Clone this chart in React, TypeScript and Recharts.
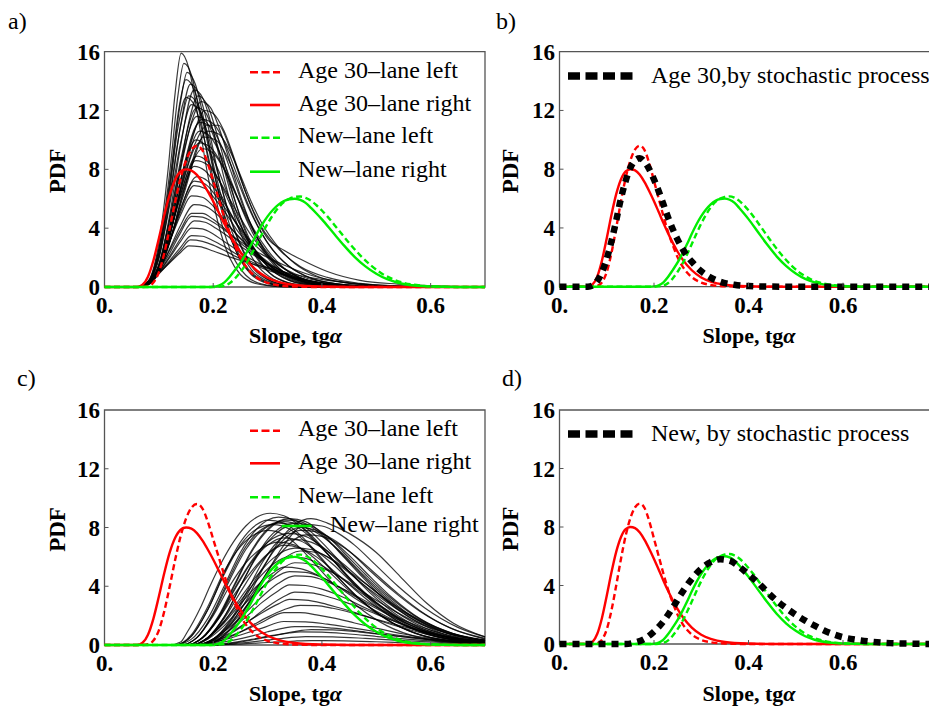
import React from 'react';
import { LineChart, Line, XAxis, YAxis, ReferenceArea, Legend } from 'recharts';

type Pt = [number, number];

// ---------- axis ticks ----------
const X_TICKS = [0, 0.2, 0.4, 0.6];
const Y_TICKS = [0, 4, 8, 12, 16];

// ---------- labels ----------
const PANEL_LETTERS = ['a)', 'b)', 'c)', 'd)'];
const Y_TITLE = 'PDF';
const X_TITLE = 'Slope, tg';
const X_TITLE_GREEK = 'α';
const LANE_LABELS = ['Age 30–lane left', 'Age 30–lane right', 'New–lane left', 'New–lane right'];
const STOCH_LABELS = ['Age 30,by stochastic process', 'New, by stochastic process'];

// ---------- colored reference PDFs ----------
const age30Left: Pt[] = [[0.07,0],[0.08,0.05],[0.09,0.3],[0.10,1.0],[0.11,2.3],[0.12,4.0],[0.13,5.8],[0.14,7.4],[0.15,8.6],[0.16,9.35],[0.17,9.6],[0.18,9.3],[0.19,8.4],[0.20,7.2],[0.21,6.0],[0.22,4.8],[0.23,3.7],[0.24,2.8],[0.25,2.0],[0.26,1.4],[0.28,0.65],[0.30,0.28],[0.32,0.12],[0.35,0.03],[0.40,0]];
const age30Right: Pt[] = [[0.06,0],[0.07,0.15],[0.08,0.7],[0.09,1.8],[0.10,3.3],[0.11,4.9],[0.12,6.3],[0.13,7.3],[0.14,7.85],[0.15,8.0],[0.16,7.92],[0.17,7.62],[0.18,7.12],[0.19,6.5],[0.20,5.82],[0.21,5.08],[0.22,4.33],[0.23,3.62],[0.24,2.97],[0.25,2.38],[0.26,1.88],[0.28,1.12],[0.30,0.63],[0.32,0.35],[0.35,0.14],[0.40,0.03],[0.45,0]];
const newLeft: Pt[] = [[0.20,0],[0.21,0.02],[0.22,0.08],[0.23,0.25],[0.24,0.58],[0.25,1.02],[0.26,1.55],[0.27,2.2],[0.28,2.9],[0.29,3.62],[0.30,4.3],[0.31,4.9],[0.32,5.4],[0.33,5.78],[0.34,6.0],[0.35,6.12],[0.36,6.15],[0.37,6.06],[0.38,5.86],[0.39,5.56],[0.40,5.2],[0.41,4.8],[0.43,3.9],[0.45,3.0],[0.47,2.17],[0.49,1.47],[0.51,0.92],[0.53,0.54],[0.55,0.29],[0.58,0.1],[0.61,0.03],[0.66,0]];
const newRight: Pt[] = [[0.19,0],[0.20,0.02],[0.21,0.1],[0.22,0.3],[0.23,0.68],[0.24,1.15],[0.25,1.65],[0.26,2.25],[0.27,2.9],[0.28,3.6],[0.29,4.25],[0.30,4.8],[0.31,5.25],[0.32,5.6],[0.33,5.85],[0.34,5.97],[0.35,6.0],[0.36,5.92],[0.37,5.72],[0.38,5.38],[0.39,5.0],[0.40,4.6],[0.42,3.72],[0.44,2.85],[0.46,2.05],[0.48,1.4],[0.50,0.9],[0.52,0.53],[0.54,0.29],[0.57,0.1],[0.60,0.03],[0.65,0]];

// ---------- stochastic-process PDFs ----------
const age30Stochastic: Pt[] = [[0.06,0],[0.07,0.08],[0.08,0.4],[0.09,1.0],[0.10,1.9],[0.11,3.1],[0.12,4.5],[0.13,6.0],[0.14,7.2],[0.15,8.1],[0.16,8.6],[0.17,8.75],[0.18,8.5],[0.19,8.0],[0.20,7.3],[0.21,6.5],[0.22,5.6],[0.23,4.7],[0.24,3.9],[0.25,3.2],[0.26,2.6],[0.27,2.1],[0.28,1.7],[0.30,1.05],[0.32,0.62],[0.34,0.34],[0.37,0.13],[0.40,0.04],[0.45,0.01],[0.50,0]];
const newStochastic: Pt[] = [[0.14,0],[0.16,0.1],[0.18,0.35],[0.20,0.85],[0.22,1.55],[0.24,2.5],[0.26,3.55],[0.28,4.45],[0.30,5.15],[0.32,5.6],[0.34,5.8],[0.36,5.7],[0.38,5.3],[0.40,4.75],[0.42,4.2],[0.44,3.55],[0.46,2.95],[0.48,2.45],[0.50,2.0],[0.52,1.6],[0.54,1.25],[0.56,0.92],[0.58,0.66],[0.60,0.46],[0.63,0.28],[0.66,0.16],[0.70,0.06],[0.75,0.02],[0.80,0]];

// ---------- simulated PDFs, age 30 (panel a) ----------
const age30Runs: Pt[][] = [
  [[0.06,0],[0.08,0.4],[0.10,3.0],[0.117,8.0],[0.13,13.2],[0.141,15.9],[0.155,14.9],[0.17,12.0],[0.19,7.6],[0.21,4.2],[0.23,2.0],[0.25,0.85],[0.28,0.22],[0.32,0.03],[0.36,0]],
  [[0.06,0],[0.08,0.35],[0.10,2.6],[0.12,7.8],[0.135,13.0],[0.146,15.2],[0.16,14.4],[0.175,11.8],[0.195,7.8],[0.215,4.4],[0.235,2.2],[0.26,0.8],[0.29,0.2],[0.33,0.03],[0.37,0]],
  [[0.06,0],[0.08,0.3],[0.10,2.3],[0.12,6.9],[0.14,12.6],[0.152,14.6],[0.167,13.8],[0.185,11.0],[0.205,7.2],[0.225,4.2],[0.245,2.2],[0.27,0.85],[0.30,0.25],[0.34,0.04],[0.38,0]],
  [[0.06,0],[0.08,0.35],[0.10,2.6],[0.12,7.2],[0.138,12.4],[0.15,14.1],[0.165,13.4],[0.18,11.4],[0.20,8.0],[0.22,5.0],[0.24,2.8],[0.265,1.2],[0.295,0.4],[0.33,0.08],[0.38,0]],
  [[0.06,0],[0.08,0.25],[0.10,1.9],[0.12,5.9],[0.14,11.0],[0.158,13.8],[0.175,13.0],[0.19,11.0],[0.21,7.6],[0.23,4.8],[0.25,2.8],[0.275,1.2],[0.30,0.5],[0.34,0.1],[0.40,0]],
  [[0.06,0],[0.08,0.2],[0.10,1.5],[0.12,4.9],[0.14,9.6],[0.165,13.4],[0.18,12.9],[0.20,10.6],[0.22,7.4],[0.24,4.7],[0.26,2.8],[0.285,1.3],[0.31,0.55],[0.35,0.12],[0.42,0]],
  [[0.06,0],[0.08,0.15],[0.10,1.2],[0.12,4.0],[0.14,8.2],[0.155,11.2],[0.172,13.0],[0.19,12.3],[0.21,10.0],[0.23,7.2],[0.25,4.7],[0.27,2.8],[0.30,1.1],[0.33,0.4],[0.37,0.08],[0.43,0]],
  [[0.06,0],[0.08,0.2],[0.10,1.4],[0.12,4.2],[0.14,8.0],[0.16,11.2],[0.178,12.6],[0.195,12.2],[0.21,10.9],[0.23,8.6],[0.25,6.2],[0.27,4.2],[0.29,2.7],[0.32,1.3],[0.36,0.45],[0.42,0.08],[0.5,0]],
  [[0.06,0],[0.08,0.15],[0.10,1.0],[0.12,3.4],[0.14,6.8],[0.16,9.9],[0.185,12.0],[0.20,11.8],[0.22,10.6],[0.24,8.6],[0.26,6.4],[0.28,4.6],[0.30,3.3],[0.33,2.5],[0.36,1.9],[0.41,1.05],[0.47,0.45],[0.54,0.2],[0.62,0.06],[0.7,0]],
  [[0.06,0],[0.08,0.2],[0.10,1.5],[0.12,4.6],[0.14,8.3],[0.17,11.6],[0.19,11.1],[0.21,9.3],[0.23,7.0],[0.25,4.8],[0.27,3.0],[0.30,1.4],[0.34,0.45],[0.39,0.08],[0.45,0]],
  [[0.06,0],[0.08,0.25],[0.10,1.3],[0.12,3.6],[0.14,6.6],[0.165,9.6],[0.19,11.0],[0.21,11.0],[0.23,9.5],[0.25,7.4],[0.27,5.5],[0.29,4.0],[0.32,2.6],[0.36,1.4],[0.41,0.65],[0.47,0.25],[0.54,0.08],[0.62,0]],
  [[0.06,0],[0.08,0.15],[0.10,1.1],[0.12,3.5],[0.14,6.7],[0.175,10.6],[0.195,10.2],[0.215,8.9],[0.235,7.0],[0.255,5.1],[0.275,3.5],[0.30,2.0],[0.33,0.9],[0.37,0.3],[0.43,0.05],[0.5,0]],
  [[0.06,0],[0.08,0.2],[0.10,1.4],[0.12,4.0],[0.14,7.2],[0.168,10.0],[0.19,9.4],[0.21,7.9],[0.23,6.0],[0.25,4.2],[0.27,2.8],[0.30,1.4],[0.34,0.45],[0.39,0.1],[0.45,0]],
  [[0.06,0],[0.08,0.15],[0.10,1.0],[0.12,3.0],[0.145,6.5],[0.18,9.4],[0.20,9.1],[0.22,8.0],[0.24,6.4],[0.26,4.8],[0.28,3.4],[0.31,1.9],[0.35,0.8],[0.40,0.22],[0.46,0.04],[0.52,0]],
  [[0.06,0],[0.08,0.2],[0.10,1.3],[0.12,3.6],[0.14,6.3],[0.17,8.9],[0.19,8.5],[0.21,7.3],[0.23,5.7],[0.25,4.2],[0.27,2.9],[0.30,1.6],[0.34,0.6],[0.39,0.15],[0.45,0.02],[0.5,0]],
  [[0.06,0],[0.08,0.25],[0.10,1.4],[0.12,3.6],[0.14,6.1],[0.165,8.2],[0.185,7.9],[0.205,6.9],[0.225,5.5],[0.245,4.1],[0.265,2.9],[0.29,1.8],[0.32,0.9],[0.36,0.3],[0.42,0.06],[0.48,0]],
  [[0.06,0],[0.08,0.2],[0.10,1.2],[0.12,3.1],[0.14,5.3],[0.17,7.5],[0.19,7.2],[0.21,6.3],[0.23,5.1],[0.25,3.9],[0.27,2.8],[0.30,1.6],[0.34,0.7],[0.39,0.2],[0.45,0.04],[0.52,0]],
  [[0.06,0],[0.08,0.25],[0.10,1.3],[0.12,3.1],[0.14,5.1],[0.165,6.9],[0.185,6.7],[0.205,5.9],[0.225,4.9],[0.245,3.8],[0.265,2.9],[0.29,1.9],[0.32,1.0],[0.36,0.4],[0.42,0.1],[0.5,0.01],[0.55,0]],
  [[0.06,0],[0.08,0.3],[0.10,1.4],[0.12,3.1],[0.14,4.9],[0.16,6.2],[0.18,6.1],[0.20,5.5],[0.22,4.6],[0.24,3.7],[0.26,2.9],[0.28,2.2],[0.31,1.3],[0.35,0.6],[0.40,0.2],[0.47,0.04],[0.55,0]],
  [[0.06,0],[0.08,0.25],[0.10,1.1],[0.12,2.6],[0.14,4.2],[0.165,5.6],[0.185,5.5],[0.205,5.0],[0.225,4.3],[0.245,3.5],[0.265,2.8],[0.29,2.0],[0.32,1.2],[0.36,0.55],[0.41,0.2],[0.48,0.04],[0.56,0]],
  [[0.06,0],[0.08,0.3],[0.10,1.2],[0.12,2.5],[0.14,3.9],[0.16,5.0],[0.18,5.0],[0.20,4.6],[0.22,4.0],[0.24,3.3],[0.26,2.7],[0.28,2.1],[0.31,1.4],[0.35,0.7],[0.40,0.27],[0.46,0.07],[0.55,0]],
  [[0.06,0],[0.08,0.25],[0.10,1.0],[0.12,2.1],[0.14,3.3],[0.165,4.5],[0.185,4.4],[0.205,4.0],[0.225,3.5],[0.245,2.9],[0.265,2.4],[0.29,1.8],[0.32,1.2],[0.36,0.6],[0.41,0.22],[0.48,0.05],[0.56,0]],
  [[0.06,0],[0.08,0.3],[0.10,1.0],[0.12,2.0],[0.14,3.1],[0.16,4.0],[0.18,3.95],[0.20,3.6],[0.22,3.1],[0.24,2.6],[0.26,2.1],[0.29,1.5],[0.32,1.0],[0.36,0.5],[0.42,0.17],[0.5,0.03],[0.58,0]],
  [[0.06,0],[0.08,0.3],[0.10,0.95],[0.12,1.8],[0.14,2.7],[0.16,3.5],[0.18,3.45],[0.20,3.15],[0.22,2.75],[0.24,2.3],[0.26,1.9],[0.29,1.4],[0.33,0.85],[0.38,0.4],[0.44,0.13],[0.52,0.02],[0.6,0]],
  [[0.06,0],[0.08,0.3],[0.10,0.9],[0.12,1.7],[0.14,2.5],[0.158,3.2],[0.18,3.1],[0.20,2.85],[0.22,2.5],[0.24,2.1],[0.27,1.6],[0.30,1.15],[0.34,0.7],[0.39,0.32],[0.45,0.1],[0.53,0.02],[0.6,0]],
  [[0.06,0],[0.08,0.35],[0.10,0.95],[0.12,1.65],[0.14,2.35],[0.155,2.8],[0.175,2.75],[0.20,2.45],[0.23,2.05],[0.26,1.7],[0.30,1.3],[0.35,0.85],[0.41,0.45],[0.48,0.18],[0.56,0.05],[0.65,0]],
  [[0.06,0],[0.08,0.3],[0.10,2.0],[0.12,5.6],[0.14,9.8],[0.16,12.4],[0.175,12.0],[0.19,10.4],[0.21,7.5],[0.23,4.9],[0.25,2.9],[0.275,1.3],[0.30,0.55],[0.34,0.12],[0.40,0]],
  [[0.06,0],[0.08,0.15],[0.10,1.2],[0.12,3.9],[0.14,7.3],[0.175,11.2],[0.195,10.9],[0.215,9.6],[0.235,7.6],[0.255,5.5],[0.275,3.8],[0.30,2.2],[0.33,1.0],[0.37,0.35],[0.43,0.06],[0.5,0]],
  [[0.06,0],[0.08,0.3],[0.10,2.3],[0.12,6.6],[0.135,10.8],[0.15,12.9],[0.165,12.4],[0.18,10.6],[0.20,7.4],[0.22,4.6],[0.24,2.6],[0.265,1.1],[0.295,0.35],[0.33,0.06],[0.38,0]],
  [[0.06,0],[0.08,0.2],[0.10,1.1],[0.12,3.1],[0.145,6.4],[0.183,10.2],[0.205,10.0],[0.225,8.9],[0.245,7.2],[0.265,5.4],[0.285,3.9],[0.31,2.5],[0.34,1.4],[0.38,0.6],[0.44,0.17],[0.52,0.03],[0.6,0]],
  [[0.06,0],[0.08,0.2],[0.10,1.5],[0.12,4.6],[0.14,8.6],[0.17,12.2],[0.185,11.9],[0.20,10.6],[0.22,8.0],[0.24,5.4],[0.26,3.4],[0.285,1.7],[0.31,0.75],[0.35,0.2],[0.42,0]],
  [[0.06,0],[0.08,0.2],[0.10,1.2],[0.12,3.8],[0.14,7.2],[0.18,11.4],[0.20,11.1],[0.22,9.9],[0.24,8.0],[0.26,6.0],[0.28,4.3],[0.30,3.0],[0.33,1.7],[0.37,0.75],[0.43,0.2],[0.5,0.04],[0.58,0]],
  [[0.06,0],[0.08,0.2],[0.10,1.2],[0.12,3.5],[0.14,6.5],[0.175,9.8],[0.195,9.5],[0.215,8.4],[0.235,6.9],[0.255,5.3],[0.275,3.9],[0.30,2.5],[0.33,1.3],[0.37,0.5],[0.43,0.12],[0.5,0]],
  [[0.06,0],[0.08,0.25],[0.10,1.3],[0.12,3.2],[0.14,5.3],[0.165,7.2],[0.185,7.0],[0.205,6.2],[0.225,5.2],[0.245,4.2],[0.265,3.3],[0.29,2.4],[0.32,1.5],[0.36,0.75],[0.42,0.25],[0.5,0.05],[0.58,0]],
  [[0.06,0],[0.08,0.3],[0.10,1.1],[0.12,2.3],[0.14,3.7],[0.16,4.8],[0.18,4.75],[0.20,4.4],[0.22,3.9],[0.24,3.35],[0.26,2.85],[0.29,2.2],[0.33,1.5],[0.38,0.8],[0.44,0.32],[0.52,0.08],[0.6,0]],
  [[0.06,0],[0.08,0.2],[0.10,1.3],[0.12,3.6],[0.14,6.3],[0.168,8.6],[0.19,8.3],[0.21,7.3],[0.23,6.0],[0.25,4.7],[0.27,3.5],[0.30,2.2],[0.34,1.0],[0.39,0.3],[0.46,0.05],[0.52,0]],
  [[0.06,0],[0.08,0.3],[0.10,2.1],[0.12,6.2],[0.14,10.9],[0.155,13.0],[0.17,12.5],[0.185,10.8],[0.205,7.6],[0.225,4.8],[0.245,2.8],[0.27,1.2],[0.30,0.4],[0.34,0.07],[0.40,0]],
  [[0.06,0],[0.08,0.2],[0.10,1.1],[0.12,3.1],[0.145,6.2],[0.19,10.6],[0.21,10.4],[0.23,9.3],[0.25,7.6],[0.27,5.8],[0.29,4.3],[0.32,2.7],[0.35,1.6],[0.39,0.75],[0.45,0.25],[0.52,0.06],[0.6,0]],
];

// ---------- simulated PDFs, new (panel c) ----------
const newRuns: Pt[][] = [
  [[0.12,0],[0.14,0.2],[0.151,0.8],[0.176,2.5],[0.194,4.0],[0.215,5.6],[0.237,7.0],[0.26,8.1],[0.28,8.7],[0.305,8.97],[0.33,8.8],[0.36,8.1],[0.39,7.0],[0.42,5.8],[0.46,4.2],[0.50,2.8],[0.55,1.5],[0.60,0.7],[0.65,0.3],[0.70,0.1]],
  [[0.13,0],[0.16,0.4],[0.19,1.8],[0.22,4.0],[0.25,6.3],[0.28,7.9],[0.32,8.7],[0.35,8.5],[0.38,7.7],[0.41,6.6],[0.45,5.0],[0.49,3.5],[0.54,2.0],[0.60,0.9],[0.66,0.35],[0.70,0.15]],
  [[0.17,0],[0.20,0.3],[0.23,1.3],[0.26,3.0],[0.29,5.1],[0.32,7.0],[0.35,8.2],[0.38,8.6],[0.41,8.3],[0.45,7.6],[0.50,6.3],[0.544,4.66],[0.593,2.84],[0.642,1.48],[0.70,0.55]],
  [[0.15,0],[0.18,0.5],[0.21,2.0],[0.24,4.2],[0.27,6.4],[0.30,7.9],[0.34,8.6],[0.37,8.4],[0.40,7.6],[0.43,6.4],[0.47,4.8],[0.51,3.3],[0.56,1.9],[0.62,0.8],[0.70,0.2]],
  [[0.14,0],[0.17,0.5],[0.20,2.2],[0.23,4.6],[0.26,6.7],[0.29,7.9],[0.33,8.4],[0.36,8.1],[0.39,7.1],[0.42,5.8],[0.46,4.1],[0.50,2.7],[0.55,1.4],[0.61,0.55],[0.70,0.12]],
  [[0.16,0],[0.19,0.5],[0.22,1.9],[0.25,4.0],[0.28,6.1],[0.31,7.6],[0.35,8.3],[0.38,8.1],[0.41,7.4],[0.44,6.3],[0.48,4.8],[0.52,3.4],[0.57,2.0],[0.63,0.9],[0.70,0.3]],
  [[0.17,0],[0.20,0.4],[0.23,1.6],[0.26,3.5],[0.29,5.6],[0.32,7.1],[0.36,8.0],[0.39,7.8],[0.42,7.1],[0.45,6.1],[0.49,4.6],[0.53,3.2],[0.58,1.8],[0.64,0.8],[0.70,0.3]],
  [[0.15,0],[0.18,0.5],[0.21,1.9],[0.24,3.9],[0.27,5.7],[0.30,7.0],[0.34,7.6],[0.37,7.4],[0.40,6.7],[0.43,5.7],[0.47,4.3],[0.51,3.0],[0.56,1.7],[0.62,0.75],[0.70,0.2]],
  [[0.16,0],[0.19,0.5],[0.22,1.8],[0.25,3.6],[0.28,5.3],[0.31,6.5],[0.35,7.2],[0.38,7.0],[0.41,6.4],[0.44,5.5],[0.48,4.2],[0.52,3.0],[0.57,1.8],[0.63,0.8],[0.70,0.3]],
  [[0.15,0],[0.18,0.5],[0.21,1.8],[0.24,3.5],[0.27,5.0],[0.30,6.2],[0.33,6.8],[0.36,6.6],[0.39,6.0],[0.42,5.1],[0.46,3.8],[0.50,2.6],[0.55,1.4],[0.61,0.6],[0.70,0.15]],
  [[0.17,0],[0.20,0.4],[0.23,1.4],[0.26,2.9],[0.29,4.4],[0.32,5.6],[0.36,6.4],[0.39,6.3],[0.42,5.8],[0.45,5.0],[0.49,3.9],[0.53,2.8],[0.58,1.7],[0.64,0.8],[0.70,0.35]],
  [[0.16,0],[0.19,0.5],[0.22,1.6],[0.25,3.0],[0.28,4.4],[0.31,5.5],[0.34,6.0],[0.37,5.9],[0.40,5.4],[0.43,4.7],[0.47,3.6],[0.51,2.6],[0.56,1.5],[0.62,0.7],[0.70,0.2]],
  [[0.17,0],[0.20,0.4],[0.23,1.3],[0.26,2.6],[0.29,3.9],[0.32,5.0],[0.35,5.6],[0.38,5.5],[0.41,5.1],[0.44,4.5],[0.48,3.5],[0.52,2.6],[0.57,1.6],[0.63,0.8],[0.70,0.3]],
  [[0.16,0],[0.19,0.5],[0.22,1.5],[0.25,2.8],[0.28,4.0],[0.31,4.9],[0.33,5.3],[0.36,5.2],[0.39,4.8],[0.42,4.2],[0.46,3.2],[0.50,2.3],[0.55,1.4],[0.61,0.6],[0.70,0.15]],
  [[0.17,0],[0.20,0.4],[0.23,1.2],[0.26,2.2],[0.29,3.3],[0.32,4.2],[0.35,4.7],[0.38,4.65],[0.41,4.3],[0.44,3.8],[0.48,3.0],[0.52,2.2],[0.57,1.4],[0.63,0.7],[0.70,0.25]],
  [[0.17,0],[0.20,0.35],[0.23,1.0],[0.26,1.9],[0.29,2.9],[0.32,3.7],[0.34,4.1],[0.37,4.05],[0.40,3.8],[0.43,3.4],[0.47,2.7],[0.51,2.0],[0.56,1.2],[0.62,0.6],[0.70,0.2]],
  [[0.18,0],[0.21,0.35],[0.24,0.95],[0.27,1.75],[0.30,2.6],[0.33,3.3],[0.35,3.6],[0.38,3.55],[0.41,3.3],[0.44,2.95],[0.48,2.4],[0.52,1.8],[0.57,1.15],[0.63,0.55],[0.70,0.2]],
  [[0.17,0],[0.20,0.3],[0.23,0.8],[0.26,1.5],[0.29,2.2],[0.32,2.8],[0.34,3.1],[0.37,3.05],[0.40,2.85],[0.43,2.55],[0.47,2.1],[0.51,1.6],[0.56,1.05],[0.62,0.5],[0.70,0.17]],
  [[0.17,0],[0.20,0.25],[0.23,0.6],[0.26,1.05],[0.29,1.55],[0.31,1.95],[0.33,2.2],[0.36,2.2],[0.39,2.05],[0.42,1.85],[0.46,1.5],[0.50,1.15],[0.55,0.75],[0.61,0.4],[0.70,0.12]],
  [[0.18,0],[0.21,0.15],[0.24,0.35],[0.27,0.6],[0.30,0.9],[0.33,1.15],[0.35,1.25],[0.38,1.25],[0.42,1.15],[0.46,0.98],[0.50,0.78],[0.55,0.55],[0.61,0.3],[0.70,0.1]],
  [[0.19,0],[0.22,0.1],[0.25,0.25],[0.28,0.45],[0.31,0.65],[0.34,0.82],[0.36,0.9],[0.40,0.88],[0.45,0.75],[0.50,0.58],[0.55,0.42],[0.61,0.25],[0.70,0.08]],
  [[0.20,0],[0.24,0.1],[0.28,0.25],[0.32,0.42],[0.37,0.57],[0.42,0.55],[0.48,0.45],[0.55,0.3],[0.62,0.17],[0.70,0.07]],
  [[0.20,0],[0.25,0.06],[0.30,0.17],[0.35,0.27],[0.38,0.3],[0.44,0.28],[0.50,0.22],[0.58,0.13],[0.70,0.05]],
  [[0.17,0],[0.20,0.2],[0.23,0.45],[0.26,0.8],[0.29,1.15],[0.33,1.6],[0.37,1.58],[0.41,1.42],[0.45,1.2],[0.50,0.9],[0.55,0.62],[0.61,0.35],[0.70,0.12]],
  [[0.13,0],[0.16,0.6],[0.19,2.4],[0.22,4.8],[0.25,6.8],[0.28,7.9],[0.31,8.2],[0.34,7.9],[0.37,7.0],[0.40,5.8],[0.44,4.2],[0.48,2.8],[0.53,1.5],[0.59,0.6],[0.66,0.2],[0.70,0.1]],
  [[0.13,0],[0.16,0.7],[0.19,2.6],[0.22,5.0],[0.25,6.7],[0.28,7.6],[0.30,7.8],[0.33,7.5],[0.36,6.6],[0.39,5.4],[0.43,3.8],[0.47,2.5],[0.52,1.3],[0.58,0.5],[0.65,0.15],[0.70,0.05]],
  [[0.18,0],[0.21,0.4],[0.24,1.5],[0.27,3.2],[0.30,5.0],[0.33,6.5],[0.37,7.5],[0.40,7.4],[0.43,6.9],[0.46,6.1],[0.50,4.8],[0.54,3.5],[0.59,2.1],[0.65,0.95],[0.70,0.4]],
  [[0.14,0],[0.17,0.5],[0.20,2.0],[0.23,4.0],[0.26,5.6],[0.29,6.6],[0.32,7.0],[0.35,6.8],[0.38,6.1],[0.41,5.1],[0.45,3.7],[0.49,2.5],[0.54,1.3],[0.60,0.5],[0.70,0.1]],
  [[0.15,0],[0.18,0.45],[0.21,1.9],[0.24,4.1],[0.27,6.3],[0.30,7.8],[0.33,8.5],[0.36,8.4],[0.39,7.8],[0.42,6.8],[0.46,5.3],[0.50,3.8],[0.55,2.3],[0.61,1.1],[0.70,0.3]],
  [[0.20,0],[0.24,0.15],[0.28,0.4],[0.32,0.7],[0.35,0.92],[0.38,1.05],[0.42,1.03],[0.47,0.88],[0.52,0.68],[0.58,0.45],[0.64,0.27],[0.70,0.14]],
  [[0.14,0],[0.17,0.5],[0.20,2.1],[0.23,4.4],[0.26,6.5],[0.29,7.8],[0.32,8.3],[0.35,8.1],[0.38,7.3],[0.41,6.2],[0.45,4.6],[0.49,3.2],[0.54,1.8],[0.60,0.8],[0.70,0.2]],
  [[0.16,0],[0.19,0.5],[0.22,1.9],[0.25,4.0],[0.28,6.0],[0.31,7.4],[0.34,8.1],[0.37,8.0],[0.40,7.4],[0.43,6.5],[0.47,5.0],[0.51,3.6],[0.56,2.1],[0.62,1.0],[0.70,0.3]],
  [[0.17,0],[0.20,0.4],[0.23,1.5],[0.26,3.3],[0.29,5.2],[0.32,6.8],[0.36,7.8],[0.39,7.7],[0.42,7.2],[0.45,6.4],[0.49,5.0],[0.53,3.7],[0.58,2.3],[0.64,1.1],[0.70,0.45]],
  [[0.15,0],[0.18,0.5],[0.21,1.8],[0.24,3.8],[0.27,5.6],[0.30,6.8],[0.33,7.3],[0.36,7.1],[0.39,6.4],[0.42,5.5],[0.46,4.1],[0.50,2.9],[0.55,1.6],[0.61,0.7],[0.70,0.18]],
  [[0.16,0],[0.19,0.45],[0.22,1.6],[0.25,3.2],[0.28,4.7],[0.31,5.9],[0.35,6.6],[0.38,6.5],[0.41,6.0],[0.44,5.2],[0.48,4.0],[0.52,2.9],[0.57,1.7],[0.63,0.8],[0.70,0.28]],
  [[0.13,0],[0.16,0.6],[0.19,2.4],[0.22,4.9],[0.25,7.0],[0.28,8.2],[0.30,8.5],[0.33,8.3],[0.36,7.5],[0.39,6.3],[0.43,4.6],[0.47,3.1],[0.52,1.7],[0.58,0.7],[0.65,0.22],[0.70,0.08]],
  [[0.18,0],[0.21,0.35],[0.24,1.4],[0.27,3.1],[0.30,5.0],[0.33,6.8],[0.37,8.2],[0.40,8.1],[0.43,7.6],[0.46,6.8],[0.50,5.4],[0.54,4.0],[0.59,2.5],[0.65,1.2],[0.70,0.55]],
  [[0.16,0],[0.19,0.4],[0.22,1.3],[0.25,2.5],[0.28,3.6],[0.31,4.5],[0.34,5.0],[0.37,4.95],[0.40,4.6],[0.43,4.0],[0.47,3.1],[0.51,2.3],[0.56,1.4],[0.62,0.65],[0.70,0.2]],
  [[0.18,0],[0.21,0.25],[0.24,0.7],[0.27,1.3],[0.30,1.9],[0.33,2.4],[0.36,2.7],[0.39,2.68],[0.42,2.5],[0.46,2.15],[0.50,1.75],[0.55,1.25],[0.61,0.7],[0.70,0.25]],
];

// ---------- styling ----------
const SERIF = "'Liberation Serif', 'Times New Roman', Times, serif";
const RED = '#ff0000';
const GREEN = '#00ee00';
const FRAME = '#555555';
const TICK_FONT = 23;
const TITLE_FONT = 23;
const XTITLE_FONT = 22;
const LEGEND_FONT = 24;

type SeriesDef = { pts: Pt[]; stroke: string; width: number; dash?: string; opacity?: number };

const toRows = (pts: Pt[], xMax: number) => {
  const rows = pts.filter((p) => p[0] <= xMax + 1e-9).map(([x, y]) => ({ x, y }));
  if (rows.length && rows[0].x > 0) rows.unshift({ x: 0, y: 0 });
  if (rows[rows.length - 1].x < xMax - 1e-9) rows.push({ x: xMax, y: 0 });
  return rows;
};

const fmtX = (v: number) => (v === 0 ? '0.' : v.toFixed(1));

const XTick = (p: any) => (
  <g>
    {p.payload.value !== 0 && (
      <line x1={p.x} x2={p.x} y1={p.y} y2={p.y - 4} stroke={FRAME} strokeWidth={1} />
    )}
    <text x={p.x} y={p.y + 26} textAnchor="middle" style={{ fontFamily: SERIF, fontWeight: 'bold', fontSize: TICK_FONT }} fill="#000">
      {fmtX(p.payload.value)}
    </text>
  </g>
);

const YTick = (p: any) => (
  <g>
    {p.payload.value !== 0 && p.payload.value !== 16 && (
      <line x1={p.x} x2={p.x + 4} y1={p.y} y2={p.y} stroke={FRAME} strokeWidth={1} />
    )}
    <text x={p.x - 4.5} y={p.y + 8} textAnchor="end" style={{ fontFamily: SERIF, fontWeight: 'bold', fontSize: TICK_FONT }} fill="#000">
      {p.payload.value}
    </text>
  </g>
);

const coloredSeries: SeriesDef[] = [
  { pts: age30Left, stroke: RED, width: 2.4, dash: '6 3.5' },
  { pts: age30Right, stroke: RED, width: 2.4 },
  { pts: newLeft, stroke: GREEN, width: 2.4, dash: '6 3.5' },
  { pts: newRight, stroke: GREEN, width: 2.4 },
];

const runSeries = (runs: Pt[][]): SeriesDef[] =>
  runs.map((pts) => ({ pts, stroke: '#000', width: 1.2, opacity: 0.78 }));

// ---------- legends ----------
type LaneRow = { y: number; x1: number; x2: number; tx: number };
const LANE_STYLE = [
  { stroke: RED, dash: '8 3.5' },
  { stroke: RED, dash: undefined },
  { stroke: GREEN, dash: '8 3.5' },
  { stroke: GREEN, dash: undefined },
];

const LaneLegend = ({ rows }: { rows: LaneRow[] }) => (
  <svg width={260} height={140} style={{ display: 'block', overflow: 'visible' }}>
    {rows.map((r, i) => (
      <g key={i}>
        <line x1={r.x1} x2={r.x2} y1={r.y} y2={r.y} stroke={LANE_STYLE[i].stroke} strokeWidth={2.6} strokeDasharray={LANE_STYLE[i].dash} />
        <text x={r.tx} y={r.y + 5.5} style={{ fontFamily: SERIF, fontSize: LEGEND_FONT }} fill="#000">
          {LANE_LABELS[i]}
        </text>
      </g>
    ))}
  </svg>
);

const StochLegend = ({ label, y }: { label: string; y: number }) => (
  <svg width={380} height={45} style={{ display: 'block', overflow: 'visible' }}>
    <line x1={8} x2={73} y1={y} y2={y} stroke="#000" strokeWidth={7.5} strokeDasharray="12 5.5" />
    <text x={91} y={y + 6.5} style={{ fontFamily: SERIF, fontSize: LEGEND_FONT }} fill="#000">
      {label}
    </text>
  </svg>
);

type PanelProps = {
  box: { left: number; top: number; width: number; height: number };
  margin: { top: number; right: number; bottom: number; left: number };
  xMax: number;
  series: SeriesDef[];
  legend: React.ReactNode;
  legendPos: { left: number; top: number; width: number; height: number };
};

const Panel = ({ box, margin, xMax, series, legend, legendPos }: PanelProps) => (
  <div style={{ position: 'absolute', left: box.left, top: box.top }}>
    <LineChart width={box.width} height={box.height} margin={margin}>
      <XAxis
        dataKey="x"
        type="number"
        domain={[0, xMax]}
        ticks={X_TICKS}
        interval={0}
        tickSize={0}
        tickMargin={0}
        height={30}
        axisLine={false}
        tick={<XTick />}
      />
      <YAxis
        type="number"
        domain={[0, 16]}
        ticks={Y_TICKS}
        interval={0}
        tickSize={0}
        tickMargin={0}
        width={60}
        axisLine={false}
        tick={<YTick />}
      />
      <ReferenceArea x1={0} x2={xMax} y1={0} y2={16} fill="none" fillOpacity={0} stroke={FRAME} strokeWidth={1.3} />
      {series.map((s, i) => (
        <Line
          key={i}
          data={toRows(s.pts, xMax)}
          dataKey="y"
          type="monotone"
          stroke={s.stroke}
          strokeWidth={s.width}
          strokeDasharray={s.dash}
          strokeOpacity={s.opacity ?? 1}
          dot={false}
          activeDot={false}
          legendType="none"
          isAnimationActive={false}
        />
      ))}
      <Legend
        layout="vertical"
        align="center"
        verticalAlign="middle"
        content={() => legend}
        wrapperStyle={{ ...legendPos, lineHeight: 0 }}
      />
    </LineChart>
  </div>
);

const XTitle = ({ cx, y }: { cx: number; y: number }) => (
  <text x={cx} y={y} textAnchor="middle" fill="#000" style={{ fontFamily: SERIF, fontWeight: 'bold', fontSize: XTITLE_FONT }}>
    {X_TITLE}
    <tspan fontStyle="italic">{X_TITLE_GREEK}</tspan>
  </text>
);

const YTitle = ({ cx, cy }: { cx: number; cy: number }) => (
  <text x={cx} y={cy} textAnchor="middle" dominantBaseline="central" transform={`rotate(-90 ${cx} ${cy})`} fill="#000" style={{ fontFamily: SERIF, fontWeight: 'bold', fontSize: TITLE_FONT }}>
    {Y_TITLE}
  </text>
);

const letterStyle = { fontFamily: SERIF, fontSize: 24 };

export default function App() {
  return (
    <div style={{ position: 'absolute', left: 0, top: 0, width: 929, height: 711, overflow: 'hidden', background: '#fff' }}>
      {/* a */}
      <Panel
        box={{ left: 0, top: 0, width: 500, height: 360 }}
        margin={{ top: 51.7, right: 15, bottom: 43, left: 44.5 }}
        xMax={0.7}
        series={[...runSeries(age30Runs), ...coloredSeries]}
        legend={
          <LaneLegend
            rows={[
              { y: 20.3, x1: 10, x2: 40, tx: 58 },
              { y: 53, x1: 10, x2: 40, tx: 58 },
              { y: 85.7, x1: 10, x2: 40, tx: 58 },
              { y: 119.7, x1: 10, x2: 40, tx: 58 },
            ]}
          />
        }
        legendPos={{ left: 240, top: 52, width: 260, height: 140 }}
      />
      {/* b */}
      <Panel
        box={{ left: 460, top: 0, width: 489, height: 360 }}
        margin={{ top: 51.7, right: 11.5, bottom: 43.3, left: 39.5 }}
        xMax={0.8}
        series={[...coloredSeries, { pts: age30Stochastic, stroke: '#000', width: 6.5, dash: '7 6' }]}
        legend={<StochLegend label={STOCH_LABELS[0]} y={21} />}
        legendPos={{ left: 100, top: 55, width: 380, height: 45 }}
      />
      {/* c */}
      <Panel
        box={{ left: 0, top: 360, width: 500, height: 351 }}
        margin={{ top: 50, right: 15, bottom: 36, left: 44.5 }}
        xMax={0.7}
        series={[...runSeries(newRuns), ...coloredSeries]}
        legend={
          <LaneLegend
            rows={[
              { y: 20.7, x1: 10, x2: 40, tx: 58 },
              { y: 53.3, x1: 10, x2: 40, tx: 58 },
              { y: 87.3, x1: 10, x2: 40, tx: 58 },
              { y: 116, x1: 41.7, x2: 71.7, tx: 90 },
            ]}
          />
        }
        legendPos={{ left: 240, top: 50, width: 260, height: 140 }}
      />
      {/* d */}
      <Panel
        box={{ left: 460, top: 360, width: 489, height: 351 }}
        margin={{ top: 50, right: 11.5, bottom: 37, left: 39.5 }}
        xMax={0.8}
        series={[...coloredSeries, { pts: newStochastic, stroke: '#000', width: 6.5, dash: '7 6' }]}
        legend={<StochLegend label={STOCH_LABELS[1]} y={22} />}
        legendPos={{ left: 100, top: 52, width: 380, height: 45 }}
      />
      <svg width={929} height={711} style={{ position: 'absolute', left: 0, top: 0, pointerEvents: 'none' }}>
        <text x={8} y={28.5} style={letterStyle} fill="#000">{PANEL_LETTERS[0]}</text>
        <text x={496} y={28.5} style={letterStyle} fill="#000">{PANEL_LETTERS[1]}</text>
        <text x={17} y={386} style={letterStyle} fill="#000">{PANEL_LETTERS[2]}</text>
        <text x={502} y={386} style={letterStyle} fill="#000">{PANEL_LETTERS[3]}</text>
        <YTitle cx={57} cy={171} />
        <YTitle cx={510} cy={171} />
        <YTitle cx={57} cy={529.5} />
        <YTitle cx={510} cy={529} />
        <XTitle cx={295.5} y={343} />
        <XTitle cx={749} y={343} />
        <XTitle cx={295.5} y={701} />
        <XTitle cx={749} y={701} />
      </svg>
    </div>
  );
}
